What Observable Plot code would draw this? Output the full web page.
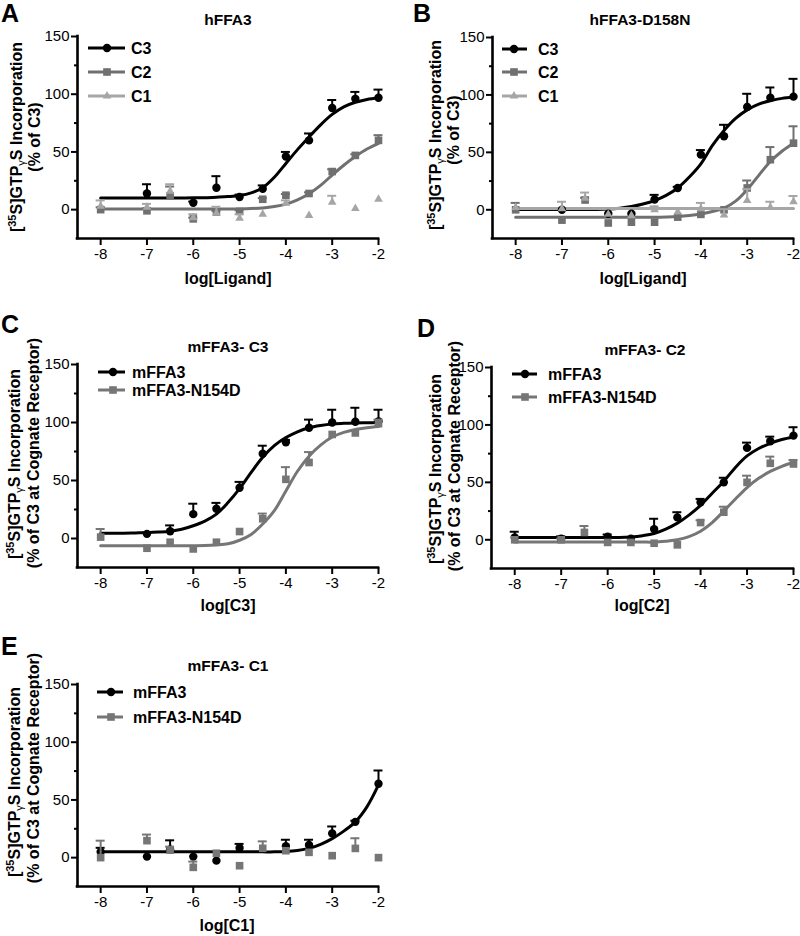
<!DOCTYPE html>
<html><head><meta charset="utf-8">
<script src="https://cdn.jsdelivr.net/npm/d3@7"></script>
<script src="https://cdn.jsdelivr.net/npm/@observablehq/plot@0.6"></script>
<style>
body{margin:0;background:#fff;}
#chart{position:relative;width:800px;height:936px;overflow:hidden;font-family:"Liberation Sans",Arial,Helvetica,sans-serif;}
#chart > svg{position:absolute;}
</style></head><body><div id="chart"></div>
<script>
// ---------- shared axes / doses ----------
const doses = [-8, -7, -6.5, -6, -5.5, -5, -4.5, -4, -3.5, -3, -2.5, -2];
const fitX = [-8, -7.75, -7.5, -7.25, -7, -6.75, -6.5, -6.25, -6, -5.75, -5.5, -5.25, -5, -4.75, -4.5, -4.25, -4, -3.75, -3.5, -3.25, -3, -2.75, -2.5, -2.25, -2];
const xDomain = [-8.5, -2];
const yDomain = [-25, 150];
const xTicks = [-8, -7, -6, -5, -4, -3, -2];
const xTickLabels = ["-8", "-7", "-6", "-5", "-4", "-3", "-2"];
const yTicks = [0, 50, 100, 150];
const yTickLabels = ["0", "50", "100", "150"];
const yMinorTicks = [25, 75, 125];

// ---------- Panel A: hFFA3 ----------
const a_C3 = [null, 14, null, 6, 19, 11, 18, 46, 60, 88, 96, 97];
const a_C3_err = [null, 8, null, 1, 10, 2, 3, 4, 6, 7, 6, 7];
const a_C2 = [0, -1, 12, -8, -2, -1.5, 9, 12.5, 14, 33, 47, 60];
const a_C2_err = [2, 2, 8, 1, 1, 1, 1, 1, 1, 2, 1, 4.5];
const a_C1 = [3, 2, 16, -7, -3, -7.5, -4, 5.5, -5, 6.5, 1, 9];
const a_C1_err = [5, 3, 6, 3, 5.5, 3.5, 0, 2.5, 0, 5.5, 0, 0];
const a_C3_fit = [10, 10, 10, 10, 10, 10, 10, 10.1, 10.2, 10.4, 10.8, 11.3, 12.2, 14.5, 19, 28, 40, 52, 63, 73.5, 82.5, 89, 93, 95.5, 97];
const a_C2_fit = [0.5, 0.5, 0.5, 0.5, 0.5, 0.5, 0.5, 0.5, 0.5, 0.5, 0.5, 0.5, 0.6, 0.9, 1.5, 2.7, 4.8, 8.5, 13.8, 21, 30, 38.5, 46, 52.5, 57.5];

// ---------- Panel B: hFFA3-D158N ----------
const b_C3 = [null, 0, null, -3.5, -3.5, 9, 19, 48, 64, 89.5, 97.5, 98.5];
const b_C3_err = [null, 0, null, 0, 0, 4, 1, 4, 10, 11.5, 9, 15.5];
const b_C2 = [0, -9, 8.5, -11.5, -10.8, -10.8, -6.4, -4, 0, 19, 43.6, 58];
const b_C2_err = [6, 0, 2, 0, 0, 0, 0, 0, 0, 6.5, 11, 14.7];
const b_C1 = [2, 1, 10, -4, -5, 0, -2, 1, -4.5, 8, 2, 7];
const b_C1_err = [0, 6, 5, 0, 0, 3, 0, 5, 5, 10, 5, 5];
const b_C3_fit = [0.3, 0.3, 0.3, 0.3, 0.3, 0.3, 0.3, 0.3, 0.6, 1.4, 2.8, 5, 8, 12.5, 19, 28.5, 40, 56, 69, 79.5, 87, 92, 95, 97, 98];
const b_C2_fit = [-6.5, -6.5, -6.5, -6.5, -6.5, -6.5, -6.5, -6.5, -6.5, -6.5, -6.5, -6.5, -6.5, -6.3, -5.9, -5, -3.6, -1.5, 1.5, 7.5, 17.5, 30, 42, 51, 58];
const b_C1_fitX = [-8, -2];
const b_C1_fit = [1.2, 1.2];

// ---------- Panel C: mFFA3- C3 ----------
const c_wt = [null, 4, 6.3, 21, 25.7, 43.8, 73, 83, 95.5, 100, 100.7, 101];
const c_wt_err = [null, 1, 5, 9, 5, 5, 7, 2, 7, 11, 12, 10];
const c_mut = [1.2, -8.4, -3.2, -9, -3.2, 6, 17, 51, 65.5, 89.7, 91, 99];
const c_mut_err = [7, 0, 0, 0, 0, 0, 4.5, 10.5, 9, 0, 0, 3.5];
const c_wt_fit = [4.5, 4.5, 4.6, 4.8, 5, 5.5, 6.3, 8, 11, 15, 21, 31, 43, 57, 70, 80, 87, 92, 95.5, 97.5, 98.8, 99.3, 99.6, 99.8, 100];
const c_mut_fit = [-6.2, -6.2, -6.2, -6.2, -6.2, -6.2, -6.2, -6.2, -6.2, -6.1, -5.6, -4.6, -1.5, 3.5, 12.5, 24, 41, 58, 71, 80.5, 87.5, 91.5, 94, 95.5, 96.5];

// ---------- Panel D: mFFA3- C2 ----------
const d_wt = [2, 1, null, 2.6, 1, 9.3, 19.5, 32.6, 50, 80, 85.8, 90.7];
const d_wt_err = [5, 2, null, 2, 0, 9, 4.5, 3, 4, 4.6, 4, 7.3];
const d_mut = [0, 0, 6.4, -2.3, -2.3, -3, -4.4, 15, 24, 50, 66.6, 66];
const d_mut_err = [0, 1, 5.6, 0, 0, 0, 0, 2, 4.8, 5.8, 5.8, 3.5];
const d_wt_fit = [2, 2, 2, 2, 2, 2, 2, 2, 2, 2, 2.5, 3.6, 5.5, 9.3, 14.5, 21.5, 30, 40.5, 51, 63, 73, 79.5, 84, 87.3, 89.5];
const d_mut_fit = [-2, -2, -2, -2, -2, -2, -2, -2, -2, -2, -2, -2, -2, -1.2, 0, 2.8, 7.5, 15, 25, 35.5, 45.5, 53.5, 59.5, 64, 67.5];

// ---------- Panel E: mFFA3- C1 ----------
const e_wt = [5, 0.9, 7, 0.9, -2.6, 8.4, null, 10, 11, 21, 31, 64];
const e_wt_err = [3.5, 0, 8, 0, 0, 3.5, null, 5.5, 4.5, 6, 1, 11.5];
const e_mut = [0, 14.7, 6.5, -8.4, 3.8, -7, 8.1, 6, 4.6, 1.7, 8, 0];
const e_mut_err = [14.7, 5.3, 3, 5, 0, 0, 6, 0, 0, 0, 8.8, 0];
const e_wt_fit = [5, 5, 5, 5, 5, 5, 5, 5, 5, 5, 5, 5, 5, 5, 5, 5, 5.3, 6.2, 8, 11.5, 16.5, 23, 31, 44, 63];

// ---------- labels ----------
const panelLetters = ["A", "B", "C", "D", "E"];
const panelTitles = ["hFFA3", "hFFA3-D158N", "mFFA3- C3", "mFFA3- C2", "mFFA3- C1"];
const xLabels = ["log[Ligand]", "log[Ligand]", "log[C3]", "log[C2]", "log[C1]"];
const yLabel2 = ["(% of C3)", "(% of C3)", "(% of C3 at Cognate Receptor)", "(% of C3 at Cognate Receptor)", "(% of C3 at Cognate Receptor)"];
const ligandNames = ["C3", "C2", "C1"];
const receptorNames = ["mFFA3", "mFFA3-N154D"];

// ---------- styling ----------
const FONT = '"Liberation Sans", Arial, Helvetica, sans-serif';
const BLACK = "#000000", GRAY = "#707070", LIGHT = "#a6a6a6", GRAY2 = "#767676";
const SYMR = {circle: 4.2, square: 4.3, triangle: 3.2};

function rows(xs, vs, es) {
  return xs.map((x, i) => ({x, v: vs[i], e: es ? es[i] : null})).filter(d => d.v != null);
}

const panels = [
  {left: 0, top: 0, height: 300, mL: 77, mR: 22, mT: 36, mB: 62,
   series: [
     {name: ligandNames[0], values: a_C3, errs: a_C3_err, fit: a_C3_fit, color: BLACK, symbol: "circle"},
     {name: ligandNames[1], values: a_C2, errs: a_C2_err, fit: a_C2_fit, color: GRAY, symbol: "square"},
     {name: ligandNames[2], values: a_C1, errs: a_C1_err, color: LIGHT, symbol: "triangle"}],
   letter: [1, 22], title: [228, 25], xlab: [228, 284], yl1: [22, 137], yl2: [40, 137],
   legend: {x1: 88, x2: 125, mx: 107, tx: 131, ys: [48, 72, 96]}},
  {left: 400, top: 0, height: 300, mL: 92, mR: 7, mT: 37, mB: 62,
   series: [
     {name: ligandNames[0], values: b_C3, errs: b_C3_err, fit: b_C3_fit, color: BLACK, symbol: "circle"},
     {name: ligandNames[1], values: b_C2, errs: b_C2_err, fit: b_C2_fit, color: GRAY, symbol: "square"},
     {name: ligandNames[2], values: b_C1, errs: b_C1_err, fit: b_C1_fit, fitX: b_C1_fitX, color: LIGHT, symbol: "triangle"}],
   letter: [413, 22], title: [640, 25], xlab: [643, 284], yl1: [441, 135], yl2: [459, 130],
   legend: {x1: 502, x2: 527, mx: 514, tx: 538, ys: [49, 72, 96]}},
  {left: 0, top: 310, height: 300, mL: 77, mR: 22, mT: 54, mB: 43,
   series: [
     {name: receptorNames[0], values: c_wt, errs: c_wt_err, fit: c_wt_fit, color: BLACK, symbol: "circle"},
     {name: receptorNames[1], values: c_mut, errs: c_mut_err, fit: c_mut_fit, color: GRAY2, symbol: "square"}],
   letter: [1, 333], title: [228, 352], xlab: [228, 611], yl1: [20, 464], yl2: [39, 453],
   legend: {x1: 98, x2: 125, mx: 113, tx: 132, ys: [372, 390]}},
  {left: 400, top: 310, height: 300, mL: 91, mR: 7, mT: 57, mB: 42,
   series: [
     {name: receptorNames[0], values: d_wt, errs: d_wt_err, fit: d_wt_fit, color: BLACK, symbol: "circle"},
     {name: receptorNames[1], values: d_mut, errs: d_mut_err, fit: d_mut_fit, color: GRAY2, symbol: "square"}],
   letter: [417, 337], title: [645, 355], xlab: [642, 611], yl1: [441, 469], yl2: [460, 456],
   legend: {x1: 512, x2: 537, mx: 525, tx: 548, ys: [374, 397]}},
  {left: 0, top: 620, height: 316, mL: 77, mR: 22, mT: 64, mB: 50,
   series: [
     {name: receptorNames[0], values: e_wt, errs: e_wt_err, fit: e_wt_fit, color: BLACK, symbol: "circle"},
     {name: receptorNames[1], values: e_mut, errs: e_mut_err, color: GRAY2, symbol: "square"}],
   letter: [1, 655], title: [228, 671], xlab: [227, 931], yl1: [20, 782], yl2: [39, 768],
   legend: {x1: 97, x2: 123, mx: 111, tx: 133, ys: [692, 717]}}
];

const chart = document.getElementById("chart");

function makePanel(p) {
  const marks = [];
  marks.push(Plot.ruleX([xDomain[0]], {y1: yDomain[0], y2: yDomain[1], stroke: BLACK, strokeWidth: 2.6, strokeLinecap: "square"}));
  marks.push(Plot.ruleY([yDomain[0]], {x1: xDomain[0], x2: xDomain[1], stroke: BLACK, strokeWidth: 2.6, strokeLinecap: "square"}));
  marks.push(Plot.axisY(yTicks, {tickSize: 6, tickPadding: 2, fontSize: 15, strokeWidth: 2, label: null,
    tickFormat: d => yTickLabels[yTicks.indexOf(d)]}));
  marks.push(Plot.axisY(yMinorTicks, {tickSize: 3, tickPadding: 2, strokeWidth: 2, label: null, tickFormat: () => ""}));
  marks.push(Plot.axisX(xTicks, {tickSize: 7, tickPadding: 3, fontSize: 15, strokeWidth: 2, label: null,
    tickFormat: d => xTickLabels[xTicks.indexOf(d)]}));
  for (const s of p.series) {
    if (s.fit) marks.push(Plot.line(rows(s.fitX || fitX, s.fit), {x: "x", y: "v", stroke: s.color, strokeWidth: 3, curve: "catmull-rom"}));
  }
  for (const s of p.series) {
    const pts = rows(doses, s.values, s.errs);
    const eb = pts.filter(d => d.e > 0);
    marks.push(Plot.ruleX(eb, {x: "x", y1: "v", y2: d => d.v + d.e, stroke: s.color, strokeWidth: 2}));
    marks.push(Plot.ruleY(eb, {y: d => d.v + d.e, x1: "x", x2: "x", insetLeft: -4.5, insetRight: -4.5, stroke: s.color, strokeWidth: 2}));
    marks.push(Plot.dot(pts, {x: "x", y: "v", symbol: s.symbol, fill: s.color, stroke: "none", r: SYMR[s.symbol]}));
  }
  const svg = Plot.plot({
    width: 400, height: p.height,
    marginLeft: p.mL, marginRight: p.mR, marginTop: p.mT, marginBottom: p.mB,
    x: {domain: xDomain, label: null},
    y: {domain: yDomain, label: null},
    style: {fontFamily: FONT, fontSize: "15px", color: "#000", background: "transparent", overflow: "visible"},
    marks
  });
  // force tick label size / family inline
  d3.select(svg).selectAll("text")
    .style("font-size", "15px")
    .style("font-family", FONT)
    .attr("fill", "#000");
  svg.style.left = p.left + "px";
  svg.style.top = p.top + "px";
  chart.appendChild(svg);
}
panels.forEach(makePanel);

// ---------- overlay text and legends ----------
const ov = d3.select(chart).append("svg")
  .attr("width", 800).attr("height", 936)
  .style("left", "0px").style("top", "0px").style("pointer-events", "none")
  .attr("font-family", FONT);

panels.forEach((p, i) => {
  ov.append("text").attr("x", p.letter[0]).attr("y", p.letter[1])
    .attr("font-size", 25).attr("font-weight", "bold").text(panelLetters[i]);
  ov.append("text").attr("x", p.title[0]).attr("y", p.title[1]).attr("text-anchor", "middle")
    .attr("font-size", 15.5).attr("font-weight", "bold").text(panelTitles[i]);
  ov.append("text").attr("x", p.xlab[0]).attr("y", p.xlab[1]).attr("text-anchor", "middle")
    .attr("font-size", 16).attr("font-weight", "bold").text(xLabels[i]);
  const t1 = ov.append("text").attr("transform", `translate(${p.yl1[0]},${p.yl1[1]}) rotate(-90)`)
    .attr("text-anchor", "middle").attr("font-size", 16).attr("font-weight", "bold");
  t1.append("tspan").text("[");
  t1.append("tspan").attr("font-size", 11).attr("dy", -6).text("35");
  t1.append("tspan").attr("dy", 6).text("S]GTP");
  t1.append("tspan").attr("font-size", 11).attr("font-weight", "normal").attr("dy", 3).text("γ");
  t1.append("tspan").attr("dy", -3).text("S Incorporation");
  ov.append("text").attr("transform", `translate(${p.yl2[0]},${p.yl2[1]}) rotate(-90)`)
    .attr("text-anchor", "middle").attr("font-size", 16).attr("font-weight", "bold").text(yLabel2[i]);
  p.series.forEach((s, j) => {
    const y = p.legend.ys[j];
    ov.append("line").attr("x1", p.legend.x1).attr("x2", p.legend.x2).attr("y1", y).attr("y2", y)
      .attr("stroke", s.color).attr("stroke-width", 3);
    const r = SYMR[s.symbol];
    const type = s.symbol === "circle" ? d3.symbolCircle : s.symbol === "square" ? d3.symbolSquare : d3.symbolTriangle;
    ov.append("path").attr("d", d3.symbol(type, Math.PI * r * r)())
      .attr("transform", `translate(${p.legend.mx},${y})`).attr("fill", s.color);
    ov.append("text").attr("x", p.legend.tx).attr("y", y).attr("dy", "0.35em")
      .attr("font-size", 16).attr("font-weight", "bold").text(s.name);
  });
});
</script>
</body></html>
